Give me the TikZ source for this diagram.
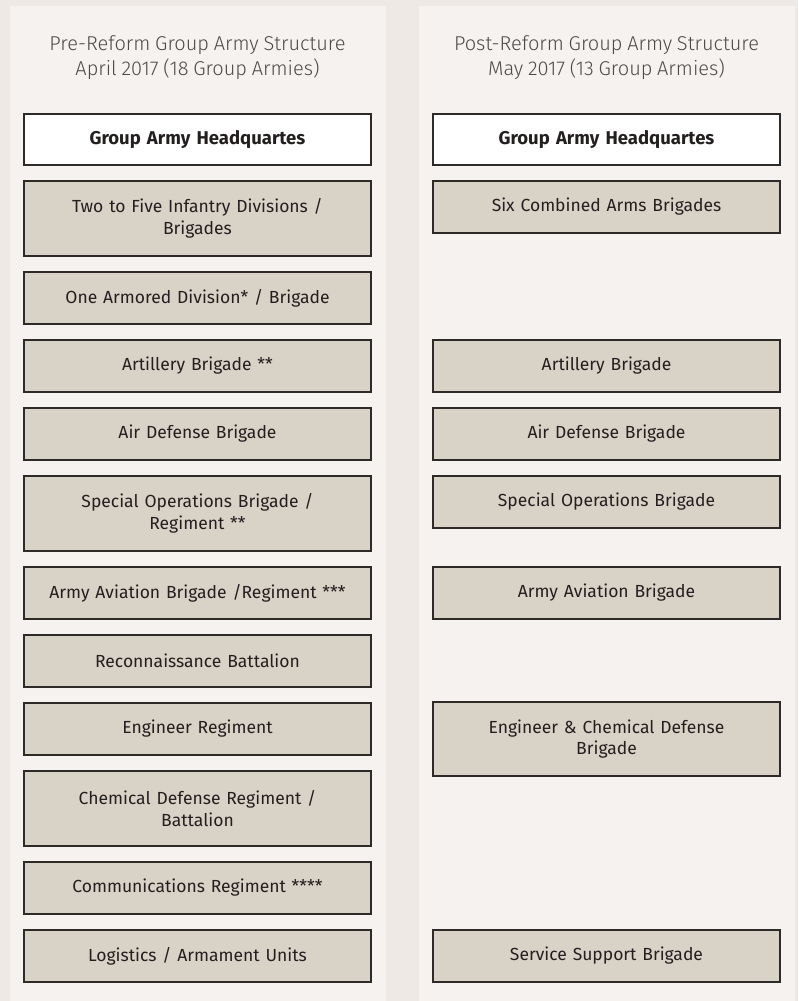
\documentclass[tikz,border=0pt]{standalone}
\usepackage{fontspec}
\setmainfont{Fira Sans}[WordSpace=0.8]
\newfontfamily\titlefont{Fira Sans Light}[WordSpace=0.85]
\definecolor{outerbg}{HTML}{EEE9E5}
\definecolor{panelbg}{HTML}{F5F2EF}
\definecolor{boxfill}{HTML}{D9D2C7}
\definecolor{boxline}{HTML}{2E2A28}
\definecolor{textc}{HTML}{231F1F}
\definecolor{titlec}{HTML}{4F4A4A}
\begin{document}
\begin{tikzpicture}[x=1pt,y=-1pt,
  box/.style={draw=boxline, line width=1.3pt, fill=boxfill, minimum width=347pt,
    text width=335pt, align=center, inner sep=0pt, text=textc,
    font=\fontsize{17.5}{21.7}\selectfont},
  hqbox/.style={box, fill=white, font=\fontsize{18.5}{21.7}\selectfont\bfseries},
  ttl/.style={align=center, text=titlec, inner sep=0pt,
    font=\titlefont\fontsize{20}{25.5}\selectfont}]
\useasboundingbox (0,0) rectangle (798,1001);
\fill[outerbg] (0,0) rectangle (798,1001);
\fill[panelbg] (10,6) rectangle (386,1001);
\fill[panelbg] (419,6) rectangle (795,1001);
% titles
\node[ttl] (tl) at (197.5,57.5) {Pre-Reform Group Army Structure\\April 2017 (18 Group Armies)};
\node[ttl] (tr) at (606.5,57.5) {Post-Reform Group Army Structure\\May 2017 (13 Group Armies)};
% left column
\node[hqbox, minimum height=51pt] (lhq) at (197.5,139.5) {Group Army Headquartes};
\node[box, minimum height=75pt] (l1) at (197.5,218.5) {Two to Five Infantry Divisions /\\Brigades};
\node[box, minimum height=52pt] (l2) at (197.5,298) {One Armored Division* / Brigade};
\node[box, minimum height=52pt] (l3) at (197.5,366) {Artillery Brigade **};
\node[box, minimum height=52pt] (l4) at (197.5,434) {Air Defense Brigade};
\node[box, minimum height=75pt] (l5) at (197.5,513.5) {Special Operations Brigade /\\Regiment **};
\node[box, minimum height=52pt] (l6) at (197.5,593) {Army Aviation Brigade /Regiment ***};
\node[box, minimum height=52pt] (l7) at (197.5,661) {Reconnaissance Battalion};
\node[box, minimum height=52pt] (l8) at (197.5,729) {Engineer Regiment};
\node[box, minimum height=75pt] (l9) at (197.5,808.5) {Chemical Defense Regiment /\\Battalion};
\node[box, minimum height=52pt] (l10) at (197.5,888) {Communications Regiment ****};
\node[box, minimum height=52pt] (l11) at (197.5,956) {Logistics / Armament Units};
% right column
\node[hqbox, minimum height=51pt] (rhq) at (606.5,139.5) {Group Army Headquartes};
\node[box, minimum height=52pt] (r1) at (606.5,207) {Six Combined Arms Brigades};
\node[box, minimum height=52pt] (r2) at (606.5,366) {Artillery Brigade};
\node[box, minimum height=52pt] (r3) at (606.5,434) {Air Defense Brigade};
\node[box, minimum height=52pt] (r4) at (606.5,502) {Special Operations Brigade};
\node[box, minimum height=52pt] (r5) at (606.5,593) {Army Aviation Brigade};
\node[box, minimum height=74pt] (r6) at (606.5,739) {Engineer \& Chemical Defense\\Brigade};
\node[box, minimum height=52pt] (r7) at (606.5,956) {Service Support Brigade};
\end{tikzpicture}
\end{document}
